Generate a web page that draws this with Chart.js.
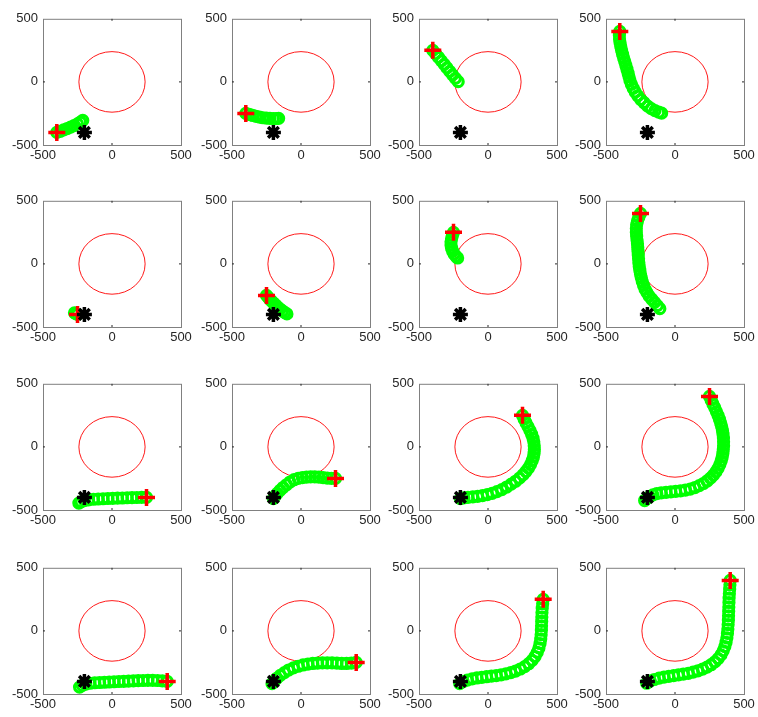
<!DOCTYPE html>
<html lang="en">
<head>
    <meta charset="UTF-8">
    <title>Trajectories</title>
    <style>
        body { margin: 0; background: #fff; }
        #grid { position: relative; width: 758px; height: 717px; }
        #grid canvas { position: absolute; }
    </style>
</head>
<body>
    <div id="grid"></div>

    <script src="https://cdn.jsdelivr.net/npm/chart.js"></script>
    <script>
        // axis ticks and fixed objects
        const axisTicks = [-500, 0, 500];
        const obstacleRadius = 240;
        const goalPoint = [-200, -400];

        // start points, row by row
        const startPoints = [
            [-400, -400], [-400, -250], [-400, 250], [-400, 400],
            [-250, -400], [-250, -250], [-250, 250], [-250, 400],
            [250, -400], [250, -250], [250, 250], [250, 400],
            [400, -400], [400, -250], [400, 250], [400, 400]
        ];

        // trajectories
        const path11 = [[-400,-400],[-375,-392],[-350,-380],[-325,-370],[-300,-358],[-275,-347],[-250,-333],[-228,-318],[-212,-305]];
        const path12 = [[-400,-250],[-375,-258],[-350,-266],[-325,-273],[-300,-279],[-275,-284],[-250,-287],[-225,-289],[-200,-290],[-180,-290],[-162,-289]];
        const path13 = [[-400,250],[-380,223],[-359,195],[-338,167],[-317,139],[-297,111],[-277,83],[-257,56],[-236,28],[-216,2]];
        const path14 = [[-400,400],[-403,370],[-402,340],[-398,310],[-393,280],[-387,250],[-380,220],[-372,190],[-364,160],[-356,130],[-348,100],[-340,70],[-333,40],[-326,10],[-316,-20],[-303,-50],[-288,-80],[-270,-110],[-248,-140],[-224,-165],[-198,-192],[-172,-212],[-145,-228],[-118,-240],[-97,-248]];

        const path21 = [[-250,-400],[-262,-394],[-272,-388]];
        const path22 = [[-250,-250],[-238,-265],[-226,-280],[-213,-295],[-199,-310],[-184,-326],[-168,-342],[-151,-358],[-134,-373],[-117,-386],[-102,-396]];
        const path23 = [[-250,250],[-258,225],[-264,200],[-268,175],[-268,150],[-264,125],[-256,100],[-245,78],[-232,60],[-220,47]];
        const path24 = [[-250,400],[-262,370],[-272,340],[-278,310],[-280,280],[-280,250],[-278,220],[-275,190],[-272,160],[-270,130],[-268,100],[-266,70],[-264,40],[-262,10],[-259,-20],[-255,-50],[-250,-80],[-244,-110],[-237,-140],[-228,-170],[-217,-200],[-203,-228],[-187,-255],[-168,-280],[-148,-305],[-128,-330],[-110,-355]];

        const path31 = [[250,-400],[215,-400],[180,-401],[145,-402],[110,-403],[75,-405],[40,-406],[5,-408],[-30,-409],[-65,-411],[-100,-413],[-135,-415],[-170,-419],[-200,-425],[-225,-435],[-240,-445]];
        const path32 = [[250,-250],[220,-250],[190,-247],[160,-243],[130,-240],[100,-238],[70,-238],[40,-240],[10,-244],[-20,-250],[-50,-260],[-80,-278],[-105,-300],[-130,-322],[-152,-345],[-172,-368],[-188,-390],[-200,-410]];
        const path33 = [[250,250],[262,220],[276,190],[290,160],[304,130],[316,100],[326,70],[332,40],[335,10],[336,-20],[334,-50],[329,-80],[320,-110],[308,-140],[293,-168],[275,-195],[253,-222],[228,-248],[200,-272],[168,-295],[135,-318],[100,-338],[65,-355],[30,-368],[-5,-378],[-40,-386],[-75,-392],[-110,-396],[-145,-400],[-175,-404],[-200,-410]];
        const path34 = [[250,400],[262,370],[275,340],[288,310],[300,280],[312,250],[322,220],[331,190],[338,160],[344,130],[348,100],[351,70],[352,40],[352,10],[350,-20],[347,-50],[342,-80],[335,-110],[325,-140],[312,-170],[296,-198],[278,-224],[257,-248],[233,-270],[206,-290],[176,-307],[144,-322],[110,-334],[75,-343],[40,-349],[5,-353],[-30,-356],[-65,-360],[-100,-364],[-132,-370],[-160,-380],[-185,-395],[-205,-410],[-220,-425]];

        const path41 = [[400,-400],[365,-396],[330,-393],[295,-392],[260,-392],[225,-393],[190,-394],[155,-396],[120,-398],[85,-400],[50,-401],[15,-403],[-20,-405],[-55,-407],[-90,-409],[-125,-411],[-160,-415],[-190,-422],[-215,-432],[-235,-445]];
        const path42 = [[400,-250],[365,-255],[330,-258],[295,-258],[260,-256],[225,-254],[190,-253],[155,-253],[120,-255],[85,-258],[50,-263],[15,-270],[-20,-280],[-55,-293],[-90,-310],[-120,-330],[-150,-352],[-175,-375],[-195,-398],[-210,-418]];
        const path43 = [[400,250],[396,215],[393,180],[391,145],[390,110],[389,75],[388,40],[387,5],[385,-30],[382,-65],[377,-100],[369,-135],[357,-170],[341,-203],[320,-233],[295,-260],[266,-283],[234,-302],[200,-318],[165,-330],[130,-340],[95,-348],[60,-354],[25,-359],[-10,-363],[-45,-368],[-80,-373],[-115,-380],[-150,-390],[-180,-402],[-205,-418]];
        const path44 = [[400,400],[398,365],[396,330],[394,295],[392,260],[391,225],[390,190],[389,155],[388,120],[387,85],[385,50],[383,15],[380,-20],[376,-55],[370,-90],[361,-125],[349,-158],[333,-190],[313,-220],[289,-246],[262,-268],[232,-287],[200,-303],[166,-316],[131,-327],[96,-336],[60,-343],[25,-349],[-10,-354],[-45,-360],[-80,-366],[-115,-374],[-150,-385],[-180,-398],[-205,-415]];

        const paths = [path11, path12, path13, path14, path21, path22, path23, path24,
                       path31, path32, path33, path34, path41, path42, path43, path44];

        // panel geometry (plot box position in the page)
        const colLeft = [43, 232, 419, 606];
        const rowTop = [14, 196, 379, 563];
        const boxW = 138, boxH = 131;
        const padL = 40, padT = 8, padR = 14, padB = 22;

        const toXY = p => ({ x: p[0], y: p[1] });
        const tickFont = { family: "'Liberation Sans', Arial, sans-serif", size: 13 };
        const tickColor = '#262626';

        // red circle, box and small inner ticks
        const framePlugin = {
            id: 'frame',
            beforeDatasetsDraw(chart) {
                const { ctx, chartArea: a, scales: { x, y } } = chart;
                const cx = x.getPixelForValue(0), cy = y.getPixelForValue(0);
                const rx = x.getPixelForValue(obstacleRadius) - cx;
                const ry = cy - y.getPixelForValue(obstacleRadius);
                ctx.save();
                ctx.strokeStyle = '#ff0000';
                ctx.lineWidth = 0.9;
                ctx.beginPath();
                ctx.ellipse(cx, cy, rx, ry, 0, 0, 2 * Math.PI);
                ctx.stroke();

                ctx.strokeStyle = '#808080';
                ctx.lineWidth = 1;
                ctx.strokeRect(a.left + 0.5, a.top + 0.5, a.width, a.height);
                ctx.strokeStyle = '#262626';
                ctx.beginPath();
                const t = 2;
                ctx.moveTo(cx, a.bottom); ctx.lineTo(cx, a.bottom - t);
                ctx.moveTo(cx, a.top); ctx.lineTo(cx, a.top + t);
                ctx.moveTo(a.left, cy); ctx.lineTo(a.left + t, cy);
                ctx.moveTo(a.right, cy); ctx.lineTo(a.right - t, cy);
                ctx.stroke();
                ctx.restore();
            }
        };

        const axis = (extra) => Object.assign({
            type: 'linear',
            min: -500,
            max: 500,
            afterBuildTicks: s => { s.ticks = axisTicks.map(v => ({ value: v })); },
            grid: { display: false, drawTicks: false },
            border: { display: false }
        }, extra);

        const grid = document.getElementById('grid');

        paths.forEach((path, i) => {
            const r = Math.floor(i / 4), c = i % 4;
            const canvas = document.createElement('canvas');
            canvas.width = padL + boxW + padR;
            canvas.height = padT + boxH + padB;
            canvas.style.left = (colLeft[c] - padL) + 'px';
            canvas.style.top = (rowTop[r] - padT) + 'px';
            grid.appendChild(canvas);

            new Chart(canvas, {
                type: 'scatter',
                data: {
                    datasets: [
                        {
                            data: [toXY(goalPoint)],
                            pointStyle: 'star',
                            pointRadius: 7.5,
                            pointBorderWidth: 3.5,
                            pointBorderColor: '#000000',
                            clip: false
                        },
                        {
                            data: [toXY(startPoints[i])],
                            pointStyle: 'cross',
                            pointRadius: 8.5,
                            pointBorderWidth: 3.5,
                            pointBorderColor: '#ff0000',
                            clip: false
                        },
                        {
                            data: path.map(toXY),
                            showLine: false,
                            pointStyle: 'circle',
                            pointRadius: 5,
                            pointBorderWidth: 3.2,
                            pointBorderColor: '#00ff00',
                            pointBackgroundColor: 'rgba(0,0,0,0)',
                            clip: false
                        }
                    ]
                },
                options: {
                    responsive: false,
                    animation: false,
                    events: [],
                    layout: { padding: { top: padT, right: padR, left: 0, bottom: 0 } },
                    plugins: { legend: { display: false }, tooltip: { enabled: false } },
                    scales: {
                        x: axis({ afterFit: s => { s.height = padB; }, ticks: { font: tickFont, color: tickColor, maxRotation: 0, autoSkip: false, padding: 3 } }),
                        y: axis({ afterFit: s => { s.width = padL; }, ticks: { font: tickFont, color: tickColor, autoSkip: false, padding: 5 } })
                    }
                },
                plugins: [framePlugin]
            });
        });
    </script>
</body>
</html>
